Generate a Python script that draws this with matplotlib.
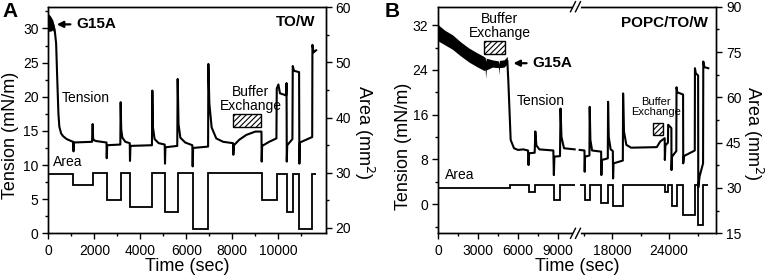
import matplotlib
matplotlib.use('Agg')
import matplotlib.pyplot as plt
from matplotlib.patches import Rectangle
from matplotlib.lines import Line2D
from matplotlib.ticker import MultipleLocator, FixedLocator

plt.rcParams['font.family'] = ['Liberation Sans', 'DejaVu Sans']
plt.rcParams['hatch.linewidth'] = 0.8

# ---------------- Panel A data (TO/W) ----------------
a_tension = [
    (0, 30.8), (60, 31.6), (130, 30.2), (200, 30.7), (290, 29.4), (340, 27.8), (390, 22.5),
    (440, 17.5), (480, 15.6), (560, 14.6), (650, 14.2), (800, 13.8), (1000, 13.5),
    (1085, 13.4), (1095, 12.0), (1110, 13.3), (1900, 13.4), (1928, 16.0), (1950, 13.8),
    (2000, 13.6), (2100, 13.5), (2530, 13.3), (2540, 11.0), (2560, 12.9), (3130, 13.0),
    (3145, 19.2), (3170, 15.2), (3220, 14.0), (3350, 13.4), (3540, 13.2), (3551, 10.6),
    (3570, 12.8), (4505, 12.9), (4522, 20.9), (4550, 15.5), (4620, 13.8), (4800, 13.2),
    (5060, 13.0), (5072, 10.2), (5090, 12.6), (5605, 12.8), (5623, 22.6), (5660, 16.0),
    (5740, 14.0), (5950, 13.3), (6260, 12.9), (6275, 9.8), (6295, 12.5), (6945, 12.7),
    (6957, 24.8), (7000, 19.0), (7100, 15.5), (7300, 13.9), (7600, 13.4), (8030, 13.2),
    (8043, 11.5), (8070, 12.9), (8300, 13.7), (8600, 14.4), (9000, 14.9), (9265, 14.9),
    (9275, 10.5), (9295, 12.8), (9600, 13.4), (9915, 13.9), (9930, 21.2), (10000, 21.8),
    (10070, 20.5), (10340, 20.2), (10355, 22.0), (10365, 10.5), (10385, 12.9),
    (10610, 13.8), (10625, 24.5), (10680, 23.8), (10900, 23.6), (10913, 10.2),
    (10935, 13.3), (11470, 14.1), (11480, 27.6), (11530, 26.5), (11640, 26.8),
]
a_noise_t = [0, 100, 200, 290]
a_noise_hi = [32.2, 31.8, 31.2, 30.0]
a_noise_lo = [29.6, 29.6, 29.8, 28.8]

a_area_edges = [0, 1090, 1930, 2540, 3150, 3550, 4520, 5070, 5620, 6270, 6960,
                9280, 9930, 10360, 10620, 10910, 11480, 11640]
a_area_levels = [29.7, 27.7, 29.9, 25.0, 29.9, 23.75, 30.0, 22.8, 29.9, 19.8,
                 29.9, 25.0, 29.8, 22.8, 29.8, 19.8, 29.8]
a_xticks = [0, 2000, 4000, 6000, 8000, 10000]
a_xminor = [1000, 3000, 5000, 7000, 9000, 11000]

# ---------------- Panel B data (POPC/TO/W) ----------------
b_noise_t = [0, 500, 1075, 1700, 2325, 2900, 3450, 3540, 3575, 3620, 4075, 4540,
             4575, 4610, 4950, 5200]
b_noise_hi = [32.1, 31.1, 30.3, 29.0, 27.9, 27.1, 26.4, 26.2, 25.5, 26.1, 25.8,
              25.6, 25.0, 25.7, 25.8, 26.4]
b_noise_lo = [29.2, 28.5, 27.7, 26.5, 25.4, 24.6, 23.9, 24.0, 22.5, 24.0, 24.5,
              24.4, 23.1, 24.4, 24.5, 25.1]

b_tension_left = [
    (5200, 25.6), (5275, 22.0), (5450, 11.5), (5700, 10.0), (6000, 9.7), (6400, 9.8),
    (6750, 9.6), (6790, 7.0), (6830, 9.1), (7250, 9.2), (7300, 13.0), (7380, 10.5),
    (7600, 9.8), (8650, 9.6), (8690, 5.2), (8730, 8.5), (9150, 8.6), (9190, 17.1),
    (9260, 12.0), (9450, 10.0), (10250, 9.8),
]
b_tension_right = [
    (14596, 9.7), (15100, 9.6), (15122, 5.8), (15160, 8.5), (15620, 8.7), (15649, 17.4),
    (15720, 11.5), (15900, 9.6), (16850, 9.4), (16876, 5.2), (16920, 7.9), (17550, 8.2),
    (17579, 18.3), (17650, 12.0), (17850, 9.8), (18080, 9.5), (18105, 4.6), (18150, 7.3),
    (19130, 7.8), (19158, 19.8), (19250, 13.0), (19500, 10.6), (20000, 10.1),
    (22700, 10.2), (23054, 11.2), (23530, 11.8), (23546, 7.9), (23600, 10.5),
    (23870, 11.0), (23893, 14.2), (24230, 13.6), (24244, 6.1), (24300, 8.5),
    (24750, 9.5), (24771, 20.9), (24850, 20.0), (25460, 19.6), (25476, 7.3),
    (25550, 8.6), (26690, 9.6), (26708, 24.3), (26800, 23.4), (27040, 23.0),
    (27056, 3.0), (27200, 5.0), (27560, 7.3), (27584, 25.5), (27700, 24.5),
    (28110, 24.3),
]
b_area_left_edges = [0, 5400, 6800, 7300, 8675, 9175, 10250]
b_area_left_levels = [30.0, 31.1, 28.6, 31.1, 25.9, 31.1]
b_area_right_edges = [14596, 15122, 15649, 16876, 17579, 18105, 19158, 23546, 23893,
                      24244, 24771, 25476, 26708, 27056, 27584, 28110]
b_area_right_levels = [31.1, 25.9, 31.1, 25.0, 31.1, 23.9, 31.1, 28.6, 31.1, 23.9,
                       31.1, 21.1, 31.1, 17.8, 31.1]

# ---------------- figure ----------------
W, H = 766, 278
fig = plt.figure(figsize=(W / 100, H / 100), dpi=100)


def frame(l, t, r, b):
    return [l / W, 1 - b / H, (r - l) / W, (b - t) / H]


TICK = dict(direction='out', width=1.0, labelsize=10, colors='k')
LW = 1.5


def style(ax):
    for s in ax.spines.values():
        s.set_linewidth(1.0)
    ax.tick_params(which='major', length=4, pad=3, **TICK)
    ax.tick_params(which='minor', length=2.5, width=1.0, direction='out')


# ---------- Panel A ----------
axA = fig.add_axes(frame(48.3, 7.3, 326, 233.3))
axA2 = axA.twinx()
ta = [p[0] for p in a_tension]
va = [p[1] for p in a_tension]
axA.fill_between(a_noise_t, a_noise_lo, a_noise_hi, color='k', lw=0)
axA.plot(ta, va, color='k', lw=LW)
axA2.stairs(a_area_levels, a_area_edges, baseline=None, color='k', lw=1.3)
axA.set_xlim(0, 12070)
axA.set_ylim(0, 33.1)
axA2.set_ylim(19, 60)
axA.xaxis.set_major_locator(FixedLocator(a_xticks))
axA.xaxis.set_minor_locator(FixedLocator(a_xminor))
axA.yaxis.set_major_locator(MultipleLocator(5))
axA.yaxis.set_minor_locator(MultipleLocator(2.5))
axA2.yaxis.set_major_locator(MultipleLocator(10))
axA2.yaxis.set_minor_locator(MultipleLocator(5))
style(axA)
style(axA2)
axA.tick_params(axis='x', pad=4)

axA.add_patch(Rectangle((8043, 15.5), 1192, 1.9, facecolor='white', edgecolor='k',
                        hatch='//////', lw=1.0))
axA.text(8791, 19.6, 'Buffer\nExchange', ha='center', va='center', fontsize=10,
         linespacing=1.0)
axA.text(1235, 30.6, 'G15A', ha='left', va='center', fontsize=11, fontweight='bold')
axA.annotate('', xy=(250, 30.6), xytext=(1080, 30.6),
             arrowprops=dict(arrowstyle='-|>', color='k', lw=1.6, mutation_scale=9))
axA.text(11596, 30.9, 'TO/W', ha='right', va='center', fontsize=11, fontweight='bold')
axA.text(583, 19.8, 'Tension', ha='left', va='center', fontsize=10)
axA.text(217, 10.5, 'Area', ha='left', va='center', fontsize=10)

fig.text(11 / W, 1 - 135 / H, 'Tension (mN/m)', rotation=90, ha='center',
         va='center', fontsize=13)
fig.text(364 / W, 1 - 132 / H, 'Area (mm$^2$)', rotation=-90, ha='center',
         va='center', fontsize=13)
fig.text(187.5 / W, 1 - 266.5 / H, 'Time (sec)', ha='center', va='center', fontsize=13)
fig.text(2 / W, 1 - 2 / H, 'A', ha='left', va='top', fontsize=15, fontweight='bold')

# ---------- Panel B (broken x axis) ----------
axBL = fig.add_axes(frame(438, 6.7, 576, 233.3))
axBR = fig.add_axes(frame(576, 6.7, 716.3, 233.3), sharey=axBL)
axBL2 = axBL.twinx()
axBR2 = axBR.twinx()

tl = [p[0] for p in b_tension_left]
vl = [p[1] for p in b_tension_left]
tr = [p[0] for p in b_tension_right]
vr = [p[1] for p in b_tension_right]
axBL.fill_between(b_noise_t, b_noise_lo, b_noise_hi, color='k', lw=0)
axBL.plot(tl, vl, color='k', lw=LW)
axBR.plot(tr, vr, color='k', lw=LW)
axBL2.stairs(b_area_left_levels, b_area_left_edges, baseline=None, color='k', lw=1.3)
axBR2.stairs(b_area_right_levels, b_area_right_edges, baseline=None, color='k', lw=1.3)

axBL.set_xlim(0, 10350)
axBR.set_xlim(14209, 28951)
axBL.set_ylim(-5.2, 35.3)
axBL2.set_ylim(15, 90)
axBR2.set_ylim(15, 90)

axBL.xaxis.set_major_locator(FixedLocator([0, 3000, 6000, 9000]))
axBL.xaxis.set_minor_locator(FixedLocator([1500, 4500, 7500]))
axBR.xaxis.set_major_locator(FixedLocator([18000, 24000]))
axBR.xaxis.set_minor_locator(FixedLocator([15000, 21000, 27000]))
axBL.yaxis.set_major_locator(MultipleLocator(8))
axBL.yaxis.set_minor_locator(MultipleLocator(4))
axBR2.yaxis.set_major_locator(MultipleLocator(15))
axBR2.yaxis.set_minor_locator(MultipleLocator(7.5))
for ax in (axBL, axBR, axBL2, axBR2):
    style(ax)
axBL.tick_params(axis='x', pad=4)
axBR.tick_params(axis='x', pad=4)

axBL.spines['right'].set_visible(False)
axBL2.spines['right'].set_visible(False)
axBL2.tick_params(axis='y', which='both', right=False, labelright=False)
axBR.spines['left'].set_visible(False)
axBR2.spines['left'].set_visible(False)
axBR.tick_params(axis='y', which='both', left=False, labelleft=False)

axBL.add_patch(Rectangle((3473, 26.8), 1575, 2.3, facecolor='white', edgecolor='k',
                         hatch='//////', lw=1.0))
axBL.text(4613, 31.9, 'Buffer\nExchange', ha='center', va='center', fontsize=10,
          linespacing=1.0)
axBL.text(7050, 25.2, 'G15A', ha='left', va='center', fontsize=11, fontweight='bold')
axBL.annotate('', xy=(5450, 25.2), xytext=(6850, 25.2),
              arrowprops=dict(arrowstyle='-|>', color='k', lw=1.6, mutation_scale=9))
axBL.text(5925, 18.5, 'Tension', ha='left', va='center', fontsize=10)
axBL.text(548, 5.2, 'Area', ha='left', va='center', fontsize=10)
axBR.text(28109, 32.4, 'POPC/TO/W', ha='right', va='center', fontsize=11,
          fontweight='bold')
axBR.add_patch(Rectangle((22286, 12.4), 1114, 2.1, facecolor='white', edgecolor='k',
                         hatch='//////', lw=1.0))
axBR.text(22581, 17.4, 'Buffer\nExchange', ha='center', va='center', fontsize=8,
          linespacing=1.0)

fig.text(403 / W, 1 - 146 / H, 'Tension (mN/m)', rotation=90, ha='center',
         va='center', fontsize=13)
fig.text(753 / W, 1 - 133 / H, 'Area (mm$^2$)', rotation=-90, ha='center',
         va='center', fontsize=13)
fig.text(577 / W, 1 - 266.5 / H, 'Time (sec)', ha='center', va='center', fontsize=13)
fig.text(385 / W, 1 - 2 / H, 'B', ha='left', va='top', fontsize=15, fontweight='bold')

# break marks
for ypx in (6.7, 233.3):
    fig.add_artist(Line2D([573.5 / W, 578.5 / W], [1 - ypx / H, 1 - ypx / H],
                          transform=fig.transFigure, color='white', lw=2.0))
    for xpx in (573, 578):
        fig.add_artist(Line2D([(xpx - 2.5) / W, (xpx + 2.5) / W],
                              [1 - (ypx + 5) / H, 1 - (ypx - 5) / H],
                              transform=fig.transFigure, color='k', lw=1.0))

fig.savefig('out.png', dpi=100)
